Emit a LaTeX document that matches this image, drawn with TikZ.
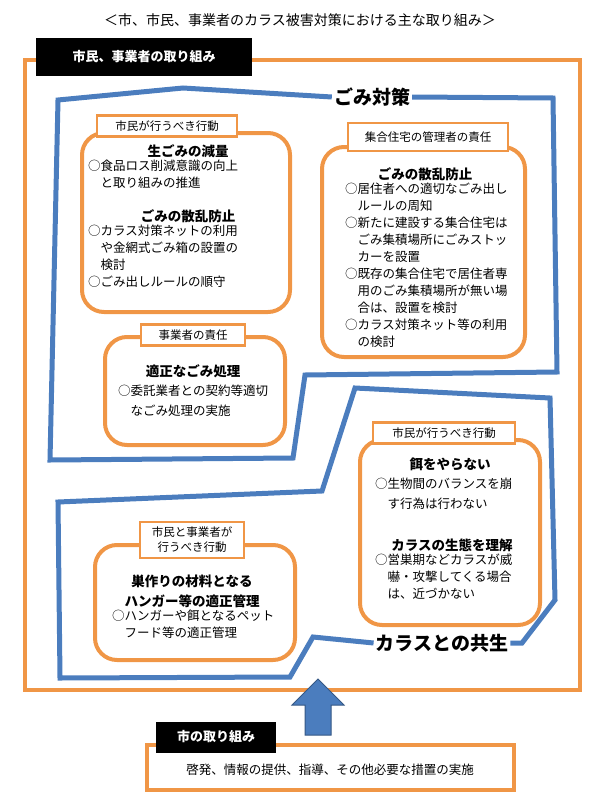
\documentclass[tikz,border=0pt]{standalone}
\usepackage{fontspec}
\setmainfont{Noto Sans CJK JP}
\usetikzlibrary{positioning}

\definecolor{boxorange}{RGB}{240,150,70}
\definecolor{pathblue}{RGB}{75,125,190}

\tikzset{
  frame/.style={draw=boxorange, line width=4pt},
  topic/.style={draw=boxorange, line width=4pt, rounded corners=22pt},
  tag/.style={draw=boxorange, line width=2.5pt, fill=white, font=\fontsize{11.5}{14}\selectfont, align=center, inner sep=5pt},
  blacktag/.style={fill=black, text=white, font=\fontsize{13}{15}\selectfont\bfseries},
  route/.style={draw=pathblue, line width=5pt, line join=miter},
  head/.style={font=\fontsize{13.5}{16}\selectfont\bfseries, align=center, inner sep=0pt},
  body/.style={font=\fontsize{12.5}{17}\selectfont, align=left, anchor=north west, inner sep=0pt},
  slogan/.style={font=\fontsize{19}{22}\selectfont\bfseries, inner sep=2pt}
}
\newcommand{\ind}{\hspace*{1em}}

\begin{document}
\begin{tikzpicture}[x=1pt,y=-1pt]
\useasboundingbox (0,0) rectangle (600,808);

% title
\node (title) at (300,20) [font=\fontsize{14}{16}\selectfont] {＜市、市民、事業者のカラス被害対策における主な取り組み＞};

% outer frame
\draw [frame] (25,60) rectangle (580,690);
\fill (36,38) rectangle (252,76);
\node (citizens) at (144,57) [blacktag] {市民、事業者の取り組み};

% routes
\node (gomi) at (372,97) [slogan] {ごみ対策};
\node (kyosei) at (442,643) [slogan] {カラスとの共生};
\draw [route] (gomi.west) -- (183,88) -- (58,100) -- (50,460) -- (293,458) -- (305,375) -- (557,372) -- (553,98) -- (gomi.east);
\draw [route] (kyosei.east) -- (522,643) -- (555,600) -- (550,398) -- (355,388) -- (322,491) -- (58,502) -- (60,678) -- (290,677) -- (313,637) -- (kyosei.west);

% citizens box (top left)
\draw [topic] (82,133) rectangle (290,312);
\node (tagA) at (167,126) [tag, minimum width=140pt] {市民が行うべき行動};
\node (headA1) at (188,151) [head] {生ごみの減量};
\node (bodyA1) at (88,160) [body] {○食品ロス削減意識の向上\\\ind と取り組みの推進};
\node (headA2) at (188,216) [head] {ごみの散乱防止};
\node (bodyA2) at (88,225) [body] {○カラス対策ネットの利用\\\ind や金網式ごみ箱の設置の\\\ind 検討\\○ごみ出しルールの順守};

% apartment box
\draw [topic] (322,147) rectangle (525,357);
\node (tagB) at (428,137) [tag, minimum width=160pt, minimum height=28pt] {集合住宅の管理者の責任};
\node (headB) at (425,174) [head] {ごみの散乱防止};
\node (bodyB) at (345,183) [body] {○居住者への適切なごみ出し\\\ind ルールの周知\\○新たに建設する集合住宅は\\\ind ごみ集積場所にごみストッ\\\ind カーを設置\\○既存の集合住宅で居住者専\\\ind 用のごみ集積場所が無い場\\\ind 合は、設置を検討\\○カラス対策ネット等の利用\\\ind の検討};

% business box
\draw [topic] (105,337) rectangle (285,445);
\node (tagC) at (193,335) [tag, minimum width=104pt] {事業者の責任};
\node (headC) at (193,371) [head] {適正なごみ処理};
\node (bodyC) at (118,385) [body, font=\fontsize{12.5}{20}\selectfont] {○委託業者との契約等適切\\\ind なごみ処理の実施};

% citizens box (right)
\draw [topic] (360,440) rectangle (540,625);
\node (tagD) at (444,433) [tag, minimum width=142pt] {市民が行うべき行動};
\node (headD1) at (450,464) [head] {餌をやらない};
\node (bodyD1) at (375,478) [body, font=\fontsize{12.5}{20}\selectfont] {○生物間のバランスを崩\\\ind す行為は行わない};
\node (headD2) at (452,545) [head] {カラスの生態を理解};
\node (bodyD2) at (375,554) [body] {○営巣期などカラスが威\\\ind 嚇・攻撃してくる場合\\\ind は、近づかない};

% citizens and business box
\draw [topic] (95,545) rectangle (295,660);
\node (tagE) at (192,540) [tag, minimum width=104pt, font=\fontsize{11.5}{15}\selectfont] {市民と事業者が\\行うべき行動};
\node (headE) at (192,591) [head, font=\fontsize{13.5}{20}\selectfont\bfseries] {巣作りの材料となる\\ハンガー等の適正管理};
\node (bodyE) at (112,610) [body] {○ハンガーや餌となるペット\\\ind フード等の適正管理};

% city box
\draw [route, line width=1pt, fill=pathblue, draw=pathblue!70!black] (318,679) -- (344,705) -- (331,705) -- (331,735) -- (305,735) -- (305,705) -- (292,705) -- cycle;
\draw [frame] (147,745) rectangle (514,790);
\fill (156,722) rectangle (276,753);
\node (city) at (216,737) [blacktag] {市の取り組み};
\node (cityact) at (330,770) [font=\fontsize{12.5}{15}\selectfont] {啓発、情報の提供、指導、その他必要な措置の実施};
\end{tikzpicture}
\end{document}
